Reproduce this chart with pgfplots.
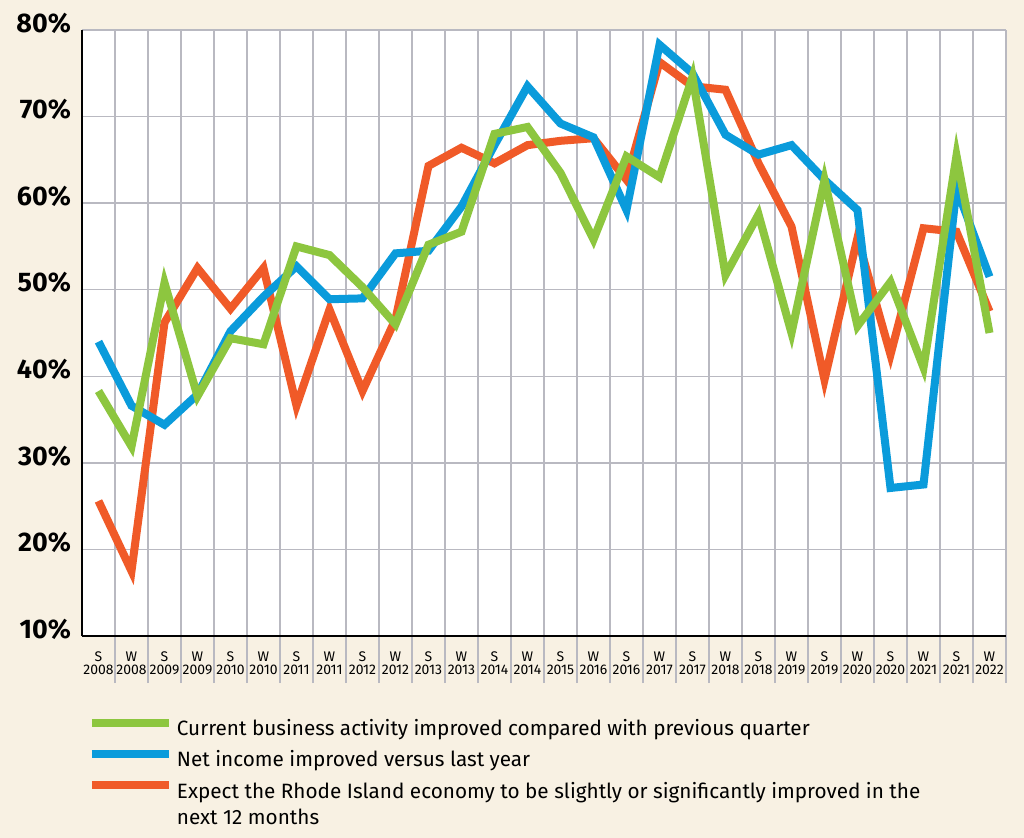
\documentclass[border=0pt]{standalone}
\usepackage{fontspec}
\setmainfont{Fira Sans}
\usepackage{pgfplots}
\pgfplotsset{compat=1.18}

\definecolor{bgcream}{HTML}{F8F1E3}
\definecolor{gridgray}{HTML}{B9B9C1}
\definecolor{lgreen}{HTML}{8DC63F}
\definecolor{lblue}{HTML}{0A9BDB}
\definecolor{lorange}{HTML}{F05A28}

\begin{document}
\begin{tikzpicture}
\fill[bgcream] (0,0) rectangle (512bp,-419bp);
\path[use as bounding box] (0,0) rectangle (512bp,-419bp);
\begin{axis}[
  at={(41bp,-15bp)}, anchor=north west,
  scale only axis, width=462bp, height=303bp,
  xmin=-0.5, xmax=27.5, ymin=10, ymax=80,
  axis background/.style={fill=white},
  axis lines=left,
  axis line style={-, black, line width=1.4bp},
  /pgf/number format/assume math mode=true,
  ytick={10,20,...,80},
  yticklabel={\pgfmathprintnumber{\tick}\%},
  yticklabel style={font=\fontsize{13.5}{13.5}\selectfont\bfseries, xshift=-2bp, yshift=3.5bp},
  xtick={0,...,27},
  xticklabels={{S\\2008},{W\\2008},{S\\2009},{W\\2009},{S\\2010},{W\\2010},{S\\2011},{W\\2011},{S\\2012},{W\\2012},{S\\2013},{W\\2013},{S\\2014},{W\\2014},{S\\2015},{W\\2016},{S\\2016},{W\\2017},{S\\2017},{W\\2018},{S\\2018},{W\\2019},{S\\2019},{W\\2020},{S\\2020},{W\\2021},{S\\2021},{W\\2022}},
  xticklabel style={align=center, font=\fontsize{7}{6.5}\selectfont, yshift=-4.5bp},
  minor xtick={0.5,1.5,...,27.5},
  xminorgrids, ymajorgrids,
  grid style={gridgray, line width=0.7bp},
  tick align=outside,
  major tick length=0pt, minor tick length=23.5bp,
  minor x tick style={gridgray, line width=0.7bp},
  every axis plot/.append style={line width=4bp},
  reverse legend,
  legend cell align=left,
  legend style={at={(0.006,-0.13)}, anchor=north west, draw=none, fill=none,
    font=\fontsize{10.4}{12}\selectfont, row sep=2bp, inner sep=0pt},
  legend image code/.code={\draw[#1, line width=4bp] (0bp,0.3em) -- (38.5bp,0.3em);},
]
\addplot[lorange] coordinates {
 (0,25.6) (1,17.5) (2,46.2) (3,52.5) (4,47.8) (5,52.5) (6,36.6) (7,47.7)
 (8,38.3) (9,46.6) (10,64.3) (11,66.4) (12,64.6) (13,66.7) (14,67.2) (15,67.5)
 (16,62.7) (17,76.3) (18,73.5) (19,73.1) (20,64.6) (21,57.3) (22,39.6) (23,56.0)
 (24,42.5) (25,57.1) (26,56.7) (27,47.5)};
\addlegendentry{\begin{tabular}[t]{@{}l@{}}Expect the Rhode Island economy to be slightly or significantly improved in the\\[1.3bp] next 12 months\end{tabular}}
\addplot[lblue] coordinates {
 (0,44.0) (1,36.6) (2,34.4) (3,37.9) (4,45.2) (5,49.2) (6,52.7) (7,48.9)
 (8,49.0) (9,54.2) (10,54.5) (11,59.6) (12,66.7) (13,73.5) (14,69.2) (15,67.6)
 (16,59.2) (17,78.3) (18,75.0) (19,67.9) (20,65.6) (21,66.7) (22,62.7) (23,59.2)
 (24,27.1) (25,27.5) (26,61.7) (27,51.5)};
\addlegendentry{Net income improved versus last year}
\addplot[lgreen] coordinates {
 (0,38.3) (1,31.9) (2,50.8) (3,37.7) (4,44.4) (5,43.7) (6,55.0) (7,54.0)
 (8,50.3) (9,46.0) (10,55.2) (11,56.7) (12,68.0) (13,68.8) (14,63.5) (15,55.8)
 (16,65.4) (17,63.0) (18,74.6) (19,51.7) (20,58.7) (21,45.0) (22,62.7) (23,45.8)
 (24,50.9) (25,41.0) (26,65.5) (27,45.0)};
\addlegendentry{Current business activity improved compared with previous quarter}
\end{axis}
\end{tikzpicture}
\end{document}
